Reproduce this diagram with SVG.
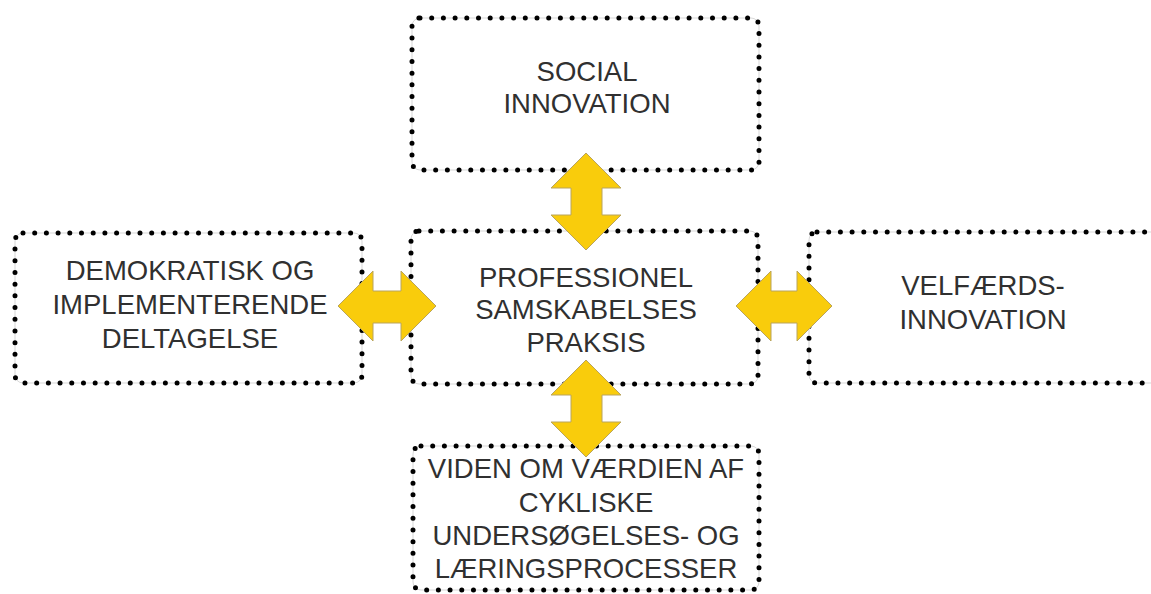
<svg xmlns="http://www.w3.org/2000/svg" width="1151" height="594" viewBox="0 0 1151 594">
<style>
.box{fill:none;stroke:#000;stroke-width:5;stroke-dasharray:0 11.7;stroke-linecap:round}
.guide{fill:none;stroke:#bdbdbd;stroke-width:0.6}
.lbl{font-family:"Liberation Sans",Arial,sans-serif;font-size:27.5px;fill:#303030;text-anchor:middle}
.arr{fill:#F9CC0C;stroke:#b9a45c;stroke-width:1}
</style>
<rect width="1151" height="594" fill="#fff"/>
<g id="node-social">
<rect class="guide" x="412" y="18" width="347" height="152" rx="8"/>
<rect class="box" x="412" y="18" width="347" height="152" rx="8"/>
<text class="lbl" x="587" y="81">SOCIAL</text>
<text class="lbl" x="587" y="113">INNOVATION</text>
</g>
<g id="node-center">
<rect class="guide" x="411" y="231" width="347" height="153" rx="8"/>
<rect class="box" x="411" y="231" width="347" height="153" rx="8"/>
<text class="lbl" x="586" y="287">PROFESSIONEL</text>
<text class="lbl" x="586" y="319">SAMSKABELSES</text>
<text class="lbl" x="586" y="352">PRAKSIS</text>
</g>
<g id="node-left">
<rect class="guide" x="15" y="233" width="347" height="150" rx="8"/>
<rect class="box" x="15" y="233" width="347" height="150" rx="8"/>
<text class="lbl" x="190" y="280">DEMOKRATISK OG</text>
<text class="lbl" x="190" y="314">IMPLEMENTERENDE</text>
<text class="lbl" x="190" y="348">DELTAGELSE</text>
</g>
<g id="node-right">
<rect class="guide" x="809" y="232" width="356" height="151" rx="8"/>
<rect class="box" x="809" y="232" width="356" height="151" rx="8"/>
<text class="lbl" x="983" y="295">VELFÆRDS-</text>
<text class="lbl" x="983" y="329">INNOVATION</text>
</g>
<g id="node-bottom">
<rect class="guide" x="413" y="446" width="346" height="144" rx="8"/>
<rect class="box" x="413" y="446" width="346" height="144" rx="8"/>
<text class="lbl" x="586" y="478">VIDEN OM VÆRDIEN AF</text>
<text class="lbl" x="586" y="512">CYKLISKE</text>
<text class="lbl" x="586" y="545">UNDERSØGELSES- OG</text>
<text class="lbl" x="586" y="578">LÆRINGSPROCESSER</text>
</g>
<g id="connectors">
<polygon class="arr" points="586,153 621,188 602,188 602,215 621,215 586,250 551,215 571,215 571,188 551,188"/>
<polygon class="arr" points="586,360 621,395 602,395 602,422 621,422 586,457 551,422 571,422 571,395 551,395"/>
<polygon class="arr" points="338,306 373,271 373,291 401,291 401,271 436,306 401,341 401,323 373,323 373,341"/>
<polygon class="arr" points="736,306 771,271 771,291 797,291 797,271 832,306 797,341 797,323 771,323 771,341"/>
</g>
</svg>
